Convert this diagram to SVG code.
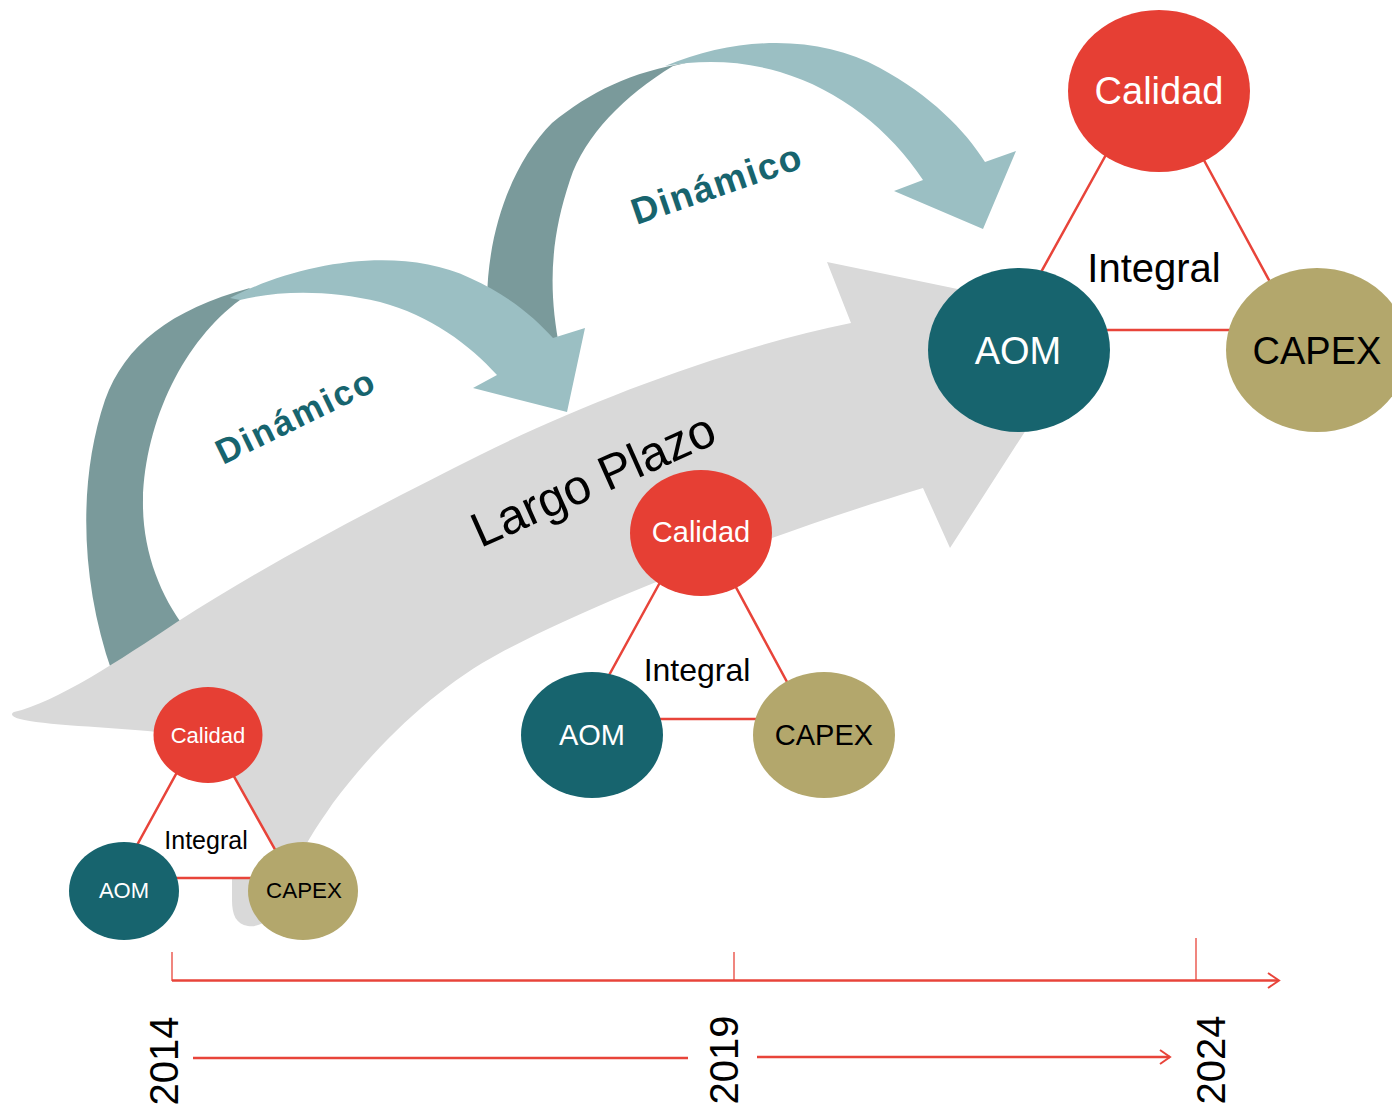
<svg xmlns="http://www.w3.org/2000/svg" width="1392" height="1106" viewBox="0 0 1392 1106">
<style>
.txt{font-family:"Liberation Sans",Arial,sans-serif}
.tri{fill:#FFFFFF;stroke:#E8443A;stroke-width:2.5}
.cal{fill:#E63F34}
.aom{fill:#17646E}
.cap{fill:#B3A76C}
.wt{fill:#FFFFFF}
.bk{fill:#000000}
.light{fill:#9BBFC3}
.dark{fill:#7A9A9B}
.axis{stroke:#E8443A;fill:none}
.dyn{font-family:"Liberation Sans",Arial,sans-serif;font-weight:bold;fill:#17646E;letter-spacing:1.5px}
</style>
<rect width="1392" height="1106" fill="#FFFFFF"/>

<g id="arrow-dinamico-2">
<path class="dark" d="M487,300 C488,225 515,160 552,123 C590,92 630,72 690,62 L673,66 C625,95 585,135 570,180 C550,240 548,290 560,350 Z"/>
<path class="light" d="M665,66 C740,35 820,35 880,68 C930,95 965,130 985,162 L1016,151 L983,229 L894,191 L923,180 C890,130 840,90 780,72 C740,60 700,60 665,66 Z"/>
<text class="dyn" font-size="37" text-anchor="middle" transform="translate(721,196) rotate(-19)">Dinámico</text>
</g>

<g id="arrow-dinamico-1">
<path class="dark" d="M112,672 C80,580 78,480 105,400 C125,345 170,310 250,288 L240,300 C185,340 145,420 143,500 C142,550 160,595 185,628 Z"/>
<path class="light" d="M230,298 C300,262 400,245 470,278 C510,296 535,318 553,338 L585,328 L567,412 L473,388 L497,375 C470,345 430,315 380,302 C330,290 280,290 240,300 Z"/>
<text class="dyn" font-size="35" text-anchor="middle" style="letter-spacing:2px" transform="translate(301,427) rotate(-26)">Dinámico</text>
</g>

<g id="largo-plazo">
<path fill="#D9D9D9" d="M14,712 C55,703 120,660 177,622 C270,562 380,505 480,455 C580,405 720,350 851,323 L827,262 L1098,318 L950,548 L923,488 C800,525 620,590 500,653 C440,685 380,740 333,803 C318,825 300,850 290,880 C278,915 264,928 248,926 C236,924 232,915 232,900 L232,878 L200,760 L157,732 C110,727 40,725 20,719 C12,717 10,714 14,712 Z"/>
<text class="txt bk" font-size="49" text-anchor="middle" transform="translate(600,495) rotate(-24)">Largo Plazo</text>
</g>

<g id="cluster-2014">
<polygon class="tri" points="204,723 291,878 119,878"/>
<ellipse class="cal" cx="208" cy="735" rx="54.5" ry="48"/>
<ellipse class="aom" cx="124" cy="891" rx="55" ry="49"/>
<ellipse class="cap" cx="303" cy="891" rx="55" ry="49"/>
<text class="txt wt" font-size="22" text-anchor="middle" x="208" y="743">Calidad</text>
<text class="txt bk" font-size="25" text-anchor="middle" x="206" y="849">Integral</text>
<text class="txt wt" font-size="22" text-anchor="middle" x="124" y="898">AOM</text>
<text class="txt bk" font-size="22.4" text-anchor="middle" x="304" y="898">CAPEX</text>
</g>

<g id="cluster-2019">
<polygon class="tri" points="697,515 807,719 585,719"/>
<ellipse class="cal" cx="701" cy="533" rx="71" ry="63"/>
<ellipse class="aom" cx="592" cy="735" rx="71" ry="63"/>
<ellipse class="cap" cx="824" cy="735" rx="71" ry="63"/>
<text class="txt wt" font-size="29" text-anchor="middle" x="701" y="542">Calidad</text>
<text class="txt bk" font-size="32" text-anchor="middle" x="697" y="681">Integral</text>
<text class="txt wt" font-size="29" text-anchor="middle" x="592" y="745">AOM</text>
<text class="txt bk" font-size="29" text-anchor="middle" x="824" y="745">CAPEX</text>
</g>

<g id="cluster-2024">
<polygon class="tri" points="1154,68 1296,330 1009,330"/>
<ellipse class="cal" cx="1159" cy="91" rx="91" ry="81"/>
<ellipse class="aom" cx="1019" cy="350" rx="91" ry="82"/>
<ellipse class="cap" cx="1317" cy="350" rx="91" ry="82"/>
<text class="txt wt" font-size="38" text-anchor="middle" x="1159" y="104">Calidad</text>
<text class="txt bk" font-size="40" text-anchor="middle" x="1154" y="282">Integral</text>
<text class="txt wt" font-size="38" text-anchor="middle" x="1018" y="364">AOM</text>
<text class="txt bk" font-size="38" text-anchor="middle" x="1317" y="364">CAPEX</text>
</g>

<g id="timeline">
<line class="axis" x1="172" y1="980.5" x2="1278" y2="980.5" stroke-width="2.5"/>
<polyline class="axis" points="1268,973 1279,980.5 1268,988" stroke-width="2"/>
<line class="axis" x1="172" y1="952" x2="172" y2="981" stroke-width="1.3"/>
<line class="axis" x1="734" y1="952" x2="734" y2="981" stroke-width="1.3"/>
<line class="axis" x1="1196" y1="938" x2="1196" y2="981" stroke-width="1.3"/>
<line class="axis" x1="193" y1="1058" x2="688" y2="1058" stroke-width="2.5"/>
<line class="axis" x1="757" y1="1057" x2="1170" y2="1057" stroke-width="2.5"/>
<polyline class="axis" points="1160,1050 1170,1057 1160,1064" stroke-width="2"/>
<text class="txt bk" font-size="40" text-anchor="middle" transform="translate(178,1061) rotate(-90)">2014</text>
<text class="txt bk" font-size="40" text-anchor="middle" transform="translate(738,1060) rotate(-90)">2019</text>
<text class="txt bk" font-size="40" text-anchor="middle" transform="translate(1225,1060) rotate(-90)">2024</text>
</g>
</svg>
